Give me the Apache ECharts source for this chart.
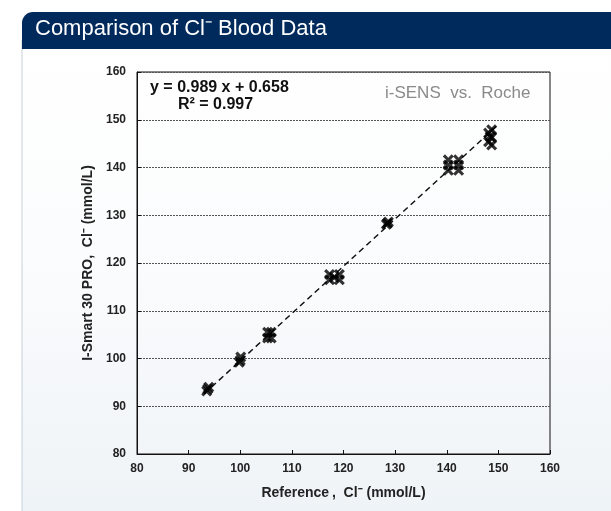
<!DOCTYPE html>
<html>
<head>
<meta charset="utf-8">
<script src="https://cdn.jsdelivr.net/npm/echarts@6/dist/echarts.min.js"></script>
<style>
html,body{margin:0;padding:0;background:#ffffff;}
#chart{width:611px;height:511px;}
</style>
</head>
<body>
<div id="chart"></div>
<script>
// Data
const titleText = 'Comparison of Cl\u207B Blood Data';
const xAxisName = 'Reference\u2009,  Cl\u207B (mmol/L)';
const yAxisName = 'I-Smart 30 PRO,  Cl\u207B (mmol/L)';
const xTicks = [80, 90, 100, 110, 120, 130, 140, 150, 160];
const yTicks = [80, 90, 100, 110, 120, 130, 140, 150, 160];
const refX = [93.5, 93.9, 93.7, 99.8, 100.1, 100.0, 105.3, 105.3, 106.0, 106.0, 117.3, 117.3, 119.2, 119.2, 118.2, 128.3, 128.7, 128.5, 140.3, 140.3, 140.3, 142.3, 142.3, 142.3, 148.1, 148.1, 148.7, 148.7, 148.7, 148.4];
const devY = [93.2, 94.0, 93.6, 99.2, 100.3, 99.6, 104.3, 105.5, 104.3, 105.5, 116.5, 117.6, 116.5, 117.6, 117.0, 128.1, 128.6, 128.3, 139.4, 140.5, 141.6, 139.4, 140.5, 141.6, 145.4, 147.2, 144.7, 146.3, 147.9, 146.5];
const trendX = [93, 150];
const trendY = [92.6, 149.0];
const equationText = 'y = 0.989 x + 0.658';
const r2Text = 'R\u00B2 = 0.997';
const legendText = 'i-SENS  vs.  Roche';

const points = refX.map((x, i) => [x, devY[i]]);
const trend = trendX.map((x, i) => [x, trendY[i]]);

const chart = echarts.init(document.getElementById('chart'), null, {renderer: 'canvas'});
const xSymbol = 'path://M0,2 L2,0 L5,3 L8,0 L10,2 L7,5 L10,8 L8,10 L5,7 L2,10 L0,8 L3,5 Z';
const font = '"Liberation Sans", Arial, sans-serif';

chart.setOption({
  animation: false,
  graphic: [
    {
      type: 'rect', z: -10, silent: true,
      shape: {x: 22, y: 40, width: 600, height: 480},
      style: {
        fill: new echarts.graphic.LinearGradient(0, 0, 0, 1, [
          {offset: 0, color: '#ffffff'},
          {offset: 0.45, color: '#fbfcfd'},
          {offset: 1, color: '#eef3f7'}
        ]),
        stroke: '#c6d0da', lineWidth: 1
      }
    },
    {
      type: 'rect', z: -5, silent: true,
      shape: {x: 22, y: 12, width: 600, height: 37, r: [11, 0, 0, 0]},
      style: {fill: '#002a5c'}
    },
    {
      type: 'text', z: 10, silent: true,
      left: 35, top: 18,
      style: {text: titleText, fill: '#ffffff', font: '22px ' + font}
    },
    {
      type: 'text', z: 10, silent: true,
      left: 150, top: 80,
      style: {text: equationText, fill: '#111111', font: 'bold 16px ' + font}
    },
    {
      type: 'text', z: 10, silent: true,
      left: 178, top: 97,
      style: {text: r2Text, fill: '#111111', font: 'bold 16px ' + font}
    },
    {
      type: 'text', z: 10, silent: true,
      left: 385, top: 85,
      style: {text: legendText, fill: '#8a8a8a', font: '17px ' + font}
    }
  ],
  grid: {left: 137, right: 61, top: 72, bottom: 57, show: true, borderColor: '#111', borderWidth: 1, backgroundColor: 'transparent'},
  xAxis: {
    type: 'value', min: 80, max: 160, interval: 10,
    name: xAxisName, nameLocation: 'middle', nameGap: 32,
    nameTextStyle: {fontFamily: font, fontWeight: 'bold', fontSize: 14, color: '#222'},
    axisLine: {show: true, onZero: false, lineStyle: {color: '#111', width: 1}},
    axisTick: {show: true, inside: true, length: 4, lineStyle: {color: '#111'}},
    axisLabel: {fontFamily: font, fontWeight: 'bold', fontSize: 12, color: '#222', margin: 9},
    splitLine: {show: false}
  },
  yAxis: {
    type: 'value', min: 80, max: 160, interval: 10,
    name: yAxisName, nameLocation: 'middle', nameGap: 38,
    nameTextStyle: {fontFamily: font, fontWeight: 'bold', fontSize: 14, color: '#222'},
    axisLine: {show: true, onZero: false, lineStyle: {color: '#111', width: 1}},
    axisTick: {show: true, inside: true, length: 4, lineStyle: {color: '#111'}},
    axisLabel: {fontFamily: font, fontWeight: 'bold', fontSize: 12, color: '#222', margin: 11},
    splitLine: {show: true, lineStyle: {color: '#555', type: [2, 1], width: 1}}
  },
  series: [
    {
      type: 'line', data: trend, showSymbol: false, symbol: 'none', z: 2,
      lineStyle: {color: '#111', width: 1.5, type: [6, 4]}
    },
    {
      type: 'scatter', data: points, symbol: xSymbol, symbolSize: 11, z: 3,
      itemStyle: {color: '#000000'}
    }
  ]
});
</script>
</body>
</html>
